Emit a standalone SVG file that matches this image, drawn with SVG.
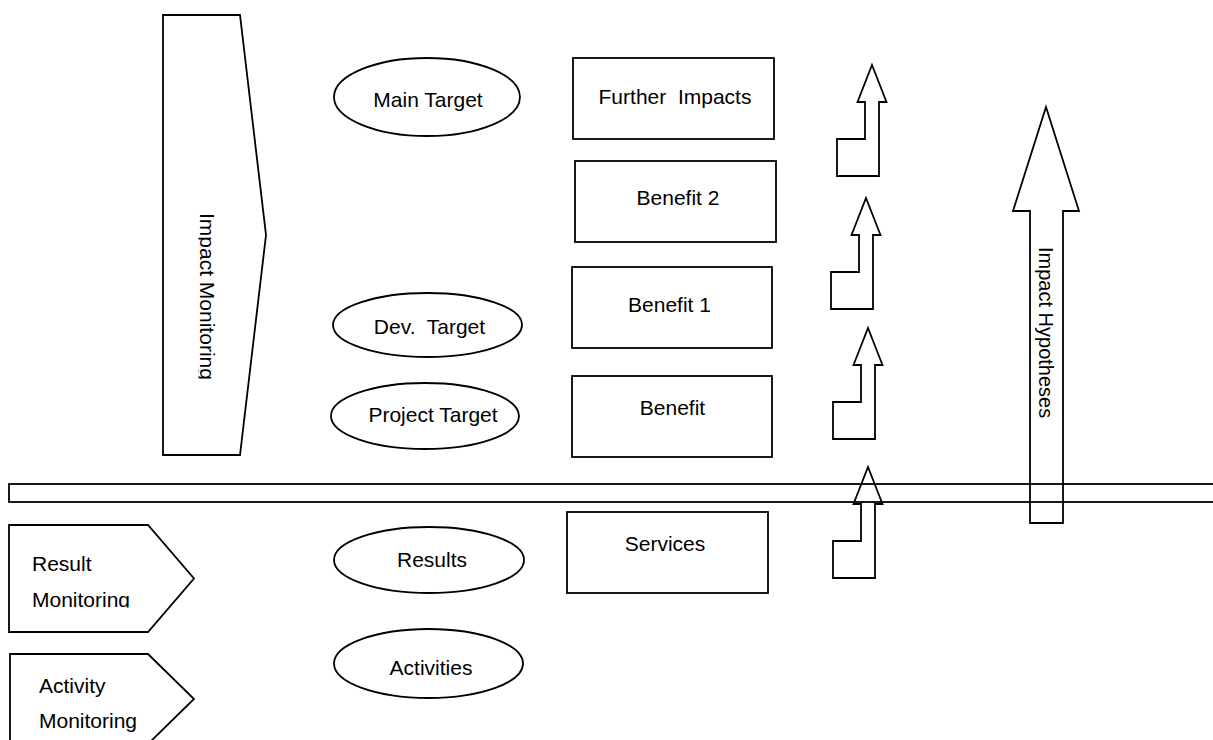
<svg xmlns="http://www.w3.org/2000/svg" width="1213" height="740" viewBox="0 0 1213 740">
  <style>
    .shape { fill: none; stroke: #000; stroke-width: 1.8; stroke-linejoin: miter; }
    .lbl { font-family: "Liberation Sans", Arial, sans-serif; font-size: 21px; fill: #000; white-space: pre; }
    .mid { text-anchor: middle; }
  </style>
  <defs>
    <!-- bent step arrow, tip at origin -->
    <path id="stepArrow" d="M0,0 L14.5,37 L7,37 L7,111 L-35,111 L-35,74 L-7,74 L-7,37 L-14.5,37 Z"/>
    <clipPath id="clipResult"><rect x="0" y="520" width="200" height="87.5"/></clipPath>
    <clipPath id="clipImpactMon"><rect x="198.5" y="190" width="40" height="250"/></clipPath>
  </defs>
  <rect width="1213" height="740" fill="#fff"/>

  <!-- monitoring bands -->
  <g id="impact-monitoring">
    <polygon class="shape" points="163,15 240,15 266,235 240,455 163,455"/>
    <g clip-path="url(#clipImpactMon)">
      <text class="lbl" transform="translate(200,213) rotate(90)">Impact Monitoring</text>
    </g>
  </g>
  <g id="result-monitoring">
    <polygon class="shape" points="9,525 148,525 194,578.5 148,632 9,632"/>
    <text class="lbl" x="32" y="571">Result</text>
    <text class="lbl" x="32" y="607" clip-path="url(#clipResult)">Monitoring</text>
  </g>
  <g id="activity-monitoring">
    <polygon class="shape" points="10,654 148,654 194,699 148,744 10,744"/>
    <text class="lbl" x="39" y="693">Activity</text>
    <text class="lbl" x="39" y="728">Monitoring</text>
  </g>

  <!-- targets -->
  <g id="main-target">
    <ellipse class="shape" cx="427" cy="97" rx="93" ry="39"/>
    <text class="lbl mid" x="428" y="107">Main Target</text>
  </g>
  <g id="dev-target">
    <ellipse class="shape" cx="427.5" cy="325" rx="94.5" ry="32"/>
    <text class="lbl mid" x="429.5" y="334">Dev.  Target</text>
  </g>
  <g id="project-target">
    <ellipse class="shape" cx="425" cy="416" rx="94" ry="33"/>
    <text class="lbl mid" x="433" y="422">Project Target</text>
  </g>
  <g id="results">
    <ellipse class="shape" cx="429" cy="560" rx="95" ry="33"/>
    <text class="lbl mid" x="432" y="567">Results</text>
  </g>
  <g id="activities">
    <ellipse class="shape" cx="428.5" cy="663.5" rx="94.5" ry="34.5"/>
    <text class="lbl mid" x="431" y="675">Activities</text>
  </g>

  <!-- benefit boxes -->
  <g id="further-impacts">
    <rect class="shape" x="573" y="58" width="201" height="81"/>
    <text class="lbl mid" x="675" y="104">Further  Impacts</text>
  </g>
  <g id="benefit-2">
    <rect class="shape" x="575" y="161" width="201" height="81"/>
    <text class="lbl mid" x="678" y="205">Benefit 2</text>
  </g>
  <g id="benefit-1">
    <rect class="shape" x="572" y="267" width="200" height="81"/>
    <text class="lbl mid" x="669.5" y="312">Benefit 1</text>
  </g>
  <g id="benefit">
    <rect class="shape" x="572" y="376" width="200" height="81"/>
    <text class="lbl mid" x="672.5" y="415">Benefit</text>
  </g>
  <g id="services">
    <rect class="shape" x="567" y="512" width="201" height="81"/>
    <text class="lbl mid" x="665" y="551">Services</text>
  </g>

  <!-- divider band -->
  <g id="divider">
    <rect class="shape" x="9" y="484" width="1220" height="18"/>
  </g>

  <!-- arrows -->
  <g id="connectors">
    <use href="#stepArrow" class="shape" x="872" y="65"/>
    <use href="#stepArrow" class="shape" x="866" y="198"/>
    <use href="#stepArrow" class="shape" x="868" y="328"/>
    <use href="#stepArrow" class="shape" x="868" y="467"/>
    <g id="impact-hypotheses">
      <polygon class="shape" points="1046,107 1079,211 1063,211 1063,523 1030,523 1030,211 1013,211"/>
      <text class="lbl" style="font-size:20px" transform="translate(1039,247) rotate(90)">Impact Hypotheses</text>
    </g>
  </g>
</svg>
